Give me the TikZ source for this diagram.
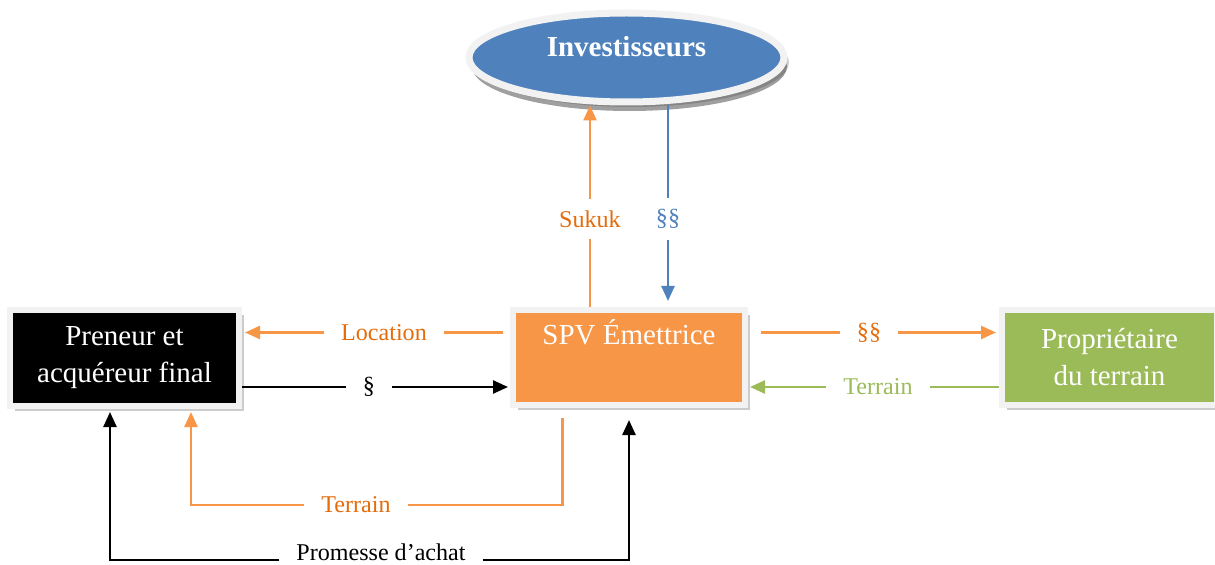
\documentclass[tikz,border=0pt]{standalone}
\usepackage{fontspec}
\setmainfont{Liberation Serif}
\usetikzlibrary{arrows.meta,shapes.geometric,shadows}
\definecolor{sukorange}{HTML}{F79646}
\definecolor{sukorangetext}{HTML}{E46C0A}
\definecolor{sukblue}{HTML}{4F81BD}
\definecolor{sukgreen}{HTML}{9BBB59}
\definecolor{sukframe}{HTML}{F2F2F2}
\begin{document}
\begin{tikzpicture}[>={Triangle[length=0.3cm,width=0.26cm]}, line width=1.4pt]
\tikzstyle{entity}=[shape=rectangle, draw=sukframe, line width=0.12cm, inner sep=0pt, text=white, align=center, font=\fontsize{16.5}{21}\selectfont, drop shadow={shadow xshift=0.1cm, shadow yshift=-0.1cm, fill=black!40}]
\tikzstyle{flow}=[inner xsep=9pt, inner ysep=6pt, font=\fontsize{13.7}{16}\selectfont]
\useasboundingbox (0,0) rectangle (24.3,11.28);
\node[entity, ellipse, fill=sukblue, line width=0.14cm, minimum width=6.3cm, minimum height=1.78cm, text height=11pt, text depth=12pt, font=\fontsize{16.5}{21}\selectfont\bfseries, drop shadow={shadow xshift=0.06cm, shadow yshift=-0.18cm, fill=black!75}] (INV) at (12.53, 10.13) {Investisseurs};
\node[entity, fill=black, minimum width=4.58cm, minimum height=1.92cm] (PRE) at (2.49, 4.12) {Preneur et\\acquéreur final};
\node[entity, fill=sukorange, minimum width=4.64cm, minimum height=1.90cm, text height=12pt, text depth=27pt] (SPV) at (12.58, 4.13) {SPV Émettrice};
\node[entity, fill=sukgreen, minimum width=4.30cm, minimum height=1.90cm] (PROP) at (22.19, 4.13) {Propriétaire\\du terrain};
\node[flow, text=sukorangetext] (SUK) at (11.80, 6.90) {Sukuk};
\node[flow, text=sukblue] (BSEC) at (13.36, 6.90) {§§};
\node[flow, text=sukorangetext] (LOC) at (7.68, 4.63) {Location};
\node[flow] (SEC) at (7.38, 3.54) {§};
\node[flow, text=sukorangetext] (OSEC) at (17.38, 4.63) {§§};
\node[flow, text=sukgreen] (GTER) at (17.56, 3.54) {Terrain};
\node[flow, text=sukorangetext] (OTER) at (7.12, 1.18) {Terrain};
\node[flow, anchor=base, inner ysep=0pt] (PRM) at (7.62, 0.08) {Promesse d’achat};
\draw [sukorange] (SUK) -- (SUK |- SPV.north);
\draw [sukorange, ->] (SUK) -- (SUK |- INV.south);
\draw [sukblue] (BSEC) -- (BSEC |- INV.south);
\draw [sukblue, ->, shorten >=0.12cm] (BSEC) -- (BSEC |- SPV.north);
\draw [sukorange, shorten >=0.14cm] (LOC) -- (LOC -| SPV.west);
\draw [sukorange, ->, shorten >=0.06cm] (LOC) -- (LOC -| PRE.east);
\draw (SEC) -- (SEC -| PRE.east);
\draw [->, shorten >=0.04cm] (SEC) -- (SEC -| SPV.west);
\draw [sukorange, shorten >=0.26cm] (OSEC) -- (OSEC -| SPV.east);
\draw [sukorange, ->, shorten >=0.06cm] (OSEC) -- (OSEC -| PROP.west);
\draw [sukgreen] (GTER) -- (GTER -| PROP.west);
\draw [sukgreen, ->, shorten >=0.04cm] (GTER) -- (GTER -| SPV.east);
\draw [sukorange, shorten >=0.2cm] (OTER) -| ([xshift=-1.33cm]SPV.south);
\draw [sukorange, ->, shorten >=0.06cm] (OTER) -| ([xshift=1.33cm]PRE.south);
\draw [->, shorten >=0.06cm] (PRM.base west) -| ([xshift=-0.29cm]PRE.south);
\draw [->, shorten >=0.24cm] (PRM.base east) -| (SPV.south);
\end{tikzpicture}
\end{document}
